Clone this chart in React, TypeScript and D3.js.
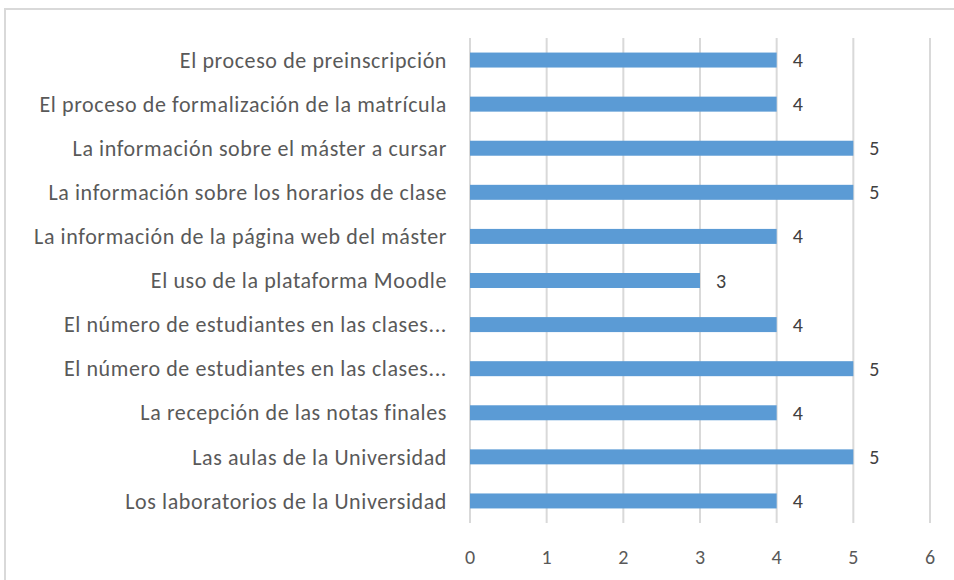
import * as d3 from 'd3';
import { useRef, useEffect } from "react"

const categories = [
    "El proceso de preinscripción",
    "El proceso de formalización de la matrícula",
    "La información sobre el máster a cursar",
    "La información sobre los horarios de clase",
    "La información de la página web del máster",
    "El uso de la plataforma Moodle",
    "El número de estudiantes en las clases...",
    "El número de estudiantes en las clases...",
    "La recepción de las notas finales",
    "Las aulas de la Universidad",
    "Los laboratorios de la Universidad",
]
const values = [4, 4, 5, 5, 4, 3, 4, 5, 4, 5, 4]
const xTicks = [0, 1, 2, 3, 4, 5, 6]

function App() {
    const ref = useRef<SVGSVGElement | null>(null)

    useEffect(() => {
        renderChart();
    }, [])

    function renderChart() {
        const W = 954, H = 580
        const plot = { left: 470, right: 930, top: 38, bottom: 523 }
        const font = "Calibri, Carlito, Lato, 'Open Sans', sans-serif"

        const svg = d3.select(ref.current!)
        svg.selectAll("*").remove()
        svg.attr("width", W).attr("height", H)

        // chart border
        svg.append("rect")
            .attr("x", 5).attr("y", 9)
            .attr("width", W + 20).attr("height", H + 20)
            .attr("fill", "#fff")
            .attr("stroke", "#d9d9d9")
            .attr("stroke-width", 2)

        const x = d3.scaleLinear().domain([0, 6]).range([plot.left, plot.right])
        const y = d3.scaleBand<number>()
            .domain(d3.range(categories.length))
            .range([plot.top, plot.bottom])
            .paddingInner(0.66)
            .paddingOuter(0.33)

        // gridlines
        svg.append("g")
            .selectAll("line")
            .data(xTicks)
            .enter()
            .append("line")
            .attr("x1", d => x(d)).attr("x2", d => x(d))
            .attr("y1", plot.top).attr("y2", plot.bottom)
            .attr("stroke", "#d9d9d9")
            .attr("stroke-width", 2)

        // x tick labels
        svg.append("g")
            .selectAll("text")
            .data(xTicks)
            .enter()
            .append("text")
            .attr("x", d => x(d))
            .attr("y", 557)
            .attr("dy", "0.35em")
            .attr("text-anchor", "middle")
            .attr("font-family", font)
            .attr("font-size", 20)
            .attr("letter-spacing", 0)
            .attr("fill", "#595959")
            .text(d => d)

        // category labels
        svg.append("g")
            .selectAll("text")
            .data(categories)
            .enter()
            .append("text")
            .attr("x", 447)
            .attr("y", (_d, i) => y(i)! + y.bandwidth() / 2)
            .attr("dy", "0.35em")
            .attr("text-anchor", "end")
            .attr("font-family", font)
            .attr("font-size", 22)
            .attr("letter-spacing", 0.6)
            .attr("fill", "#595959")
            .text(d => d)

        // bars
        svg.append("g")
            .selectAll("rect")
            .data(values)
            .enter()
            .append("rect")
            .attr("x", x(0))
            .attr("y", (_d, i) => y(i)!)
            .attr("width", d => x(d) - x(0))
            .attr("height", y.bandwidth())
            .attr("fill", "#5b9bd5")

        // value labels
        svg.append("g")
            .selectAll("text")
            .data(values)
            .enter()
            .append("text")
            .attr("x", d => x(d) + 16)
            .attr("y", (_d, i) => y(i)! + y.bandwidth() / 2)
            .attr("dy", "0.35em")
            .attr("font-family", font)
            .attr("font-size", 20)
            .attr("fill", "#404040")
            .text(d => d)
    }

    return (
        <svg
            ref={ref}
            style={{ position: 'absolute', left: 0, top: 0, display: 'block' }}
        />
    )
}

export default App;
